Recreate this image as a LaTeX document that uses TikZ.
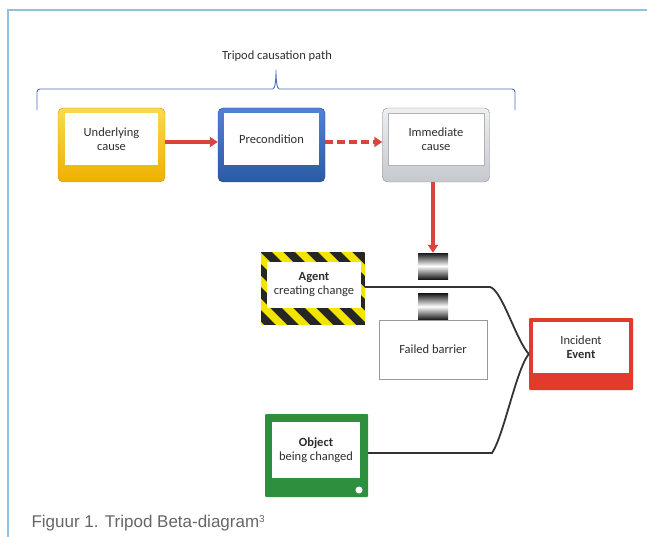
\documentclass[tikz,border=0pt]{standalone}
\usepackage{fontspec}
\setmainfont{Carlito}
\newfontfamily\capfont{Liberation Sans}
\usetikzlibrary{arrows.meta}
\definecolor{framecol}{HTML}{8CC4E0}
\definecolor{bracecol}{HTML}{4B6CC1}
\definecolor{arrowred}{HTML}{D9443F}
\definecolor{goldtop}{HTML}{FAD950}
\definecolor{goldbot}{HTML}{EFB000}
\definecolor{bluetop}{HTML}{4F83D2}
\definecolor{bluebot}{HTML}{2C5AA3}
\definecolor{graytop}{HTML}{EDEFF2}
\definecolor{graybot}{HTML}{C5C8CD}
\definecolor{eventred}{HTML}{E23B2E}
\definecolor{objgreen}{HTML}{2E8F3E}
\definecolor{stripey}{HTML}{F2E600}
\tikzset{
  lbl/.style = {font=\fontsize{12.5}{14}\selectfont, text=black!82, align=center},
  button/.style = {rounded corners=5pt, minimum width=107pt, minimum height=74pt, inner sep=0pt},
  panel/.style = {fill=white, inner sep=0pt, lbl},
  flag/.style = {minimum width=104pt, minimum height=73pt, inner sep=0pt},
  barrier/.style = {top color=black!90, bottom color=black!90, middle color=white,
    minimum width=30pt, minimum height=26pt, inner sep=0pt},
  redarrow/.style = {arrowred, line width=3.2pt, -{Triangle[length=8pt,width=10pt]}},
  wire/.style = {black!80, line width=1.8pt}
}
\begin{document}
\begin{tikzpicture}[x=1pt, y=-1pt]
  \useasboundingbox (0,0) rectangle (647,537);
  \draw[framecol, line width=1.5pt] (8,537) -- (8,10) -- (647,10);

  % causation path
  \node[lbl] (title) at (277,56) {Tripod causation path};
  \draw[bracecol, line width=.9pt, rounded corners=3pt]
    (37,110) -- (37,89) -- (270,89) .. controls (275,89) and (276,80) .. (276,68)
    .. controls (276,80) and (277,89) .. (282,89) -- (515,89) -- (515,110);

  \node[button, draw=goldbot!85!black, top color=goldtop, bottom color=goldbot] (under) at (111.5,145) {};
  \node[panel, minimum width=93pt, minimum height=52pt] (underIn) at (111.5,139) {Underlying\\cause};
  \node[button, draw=bluebot!80!black, top color=bluetop, bottom color=bluebot] (pre) at (271.5,145) {};
  \node[panel, minimum width=95pt, minimum height=52pt] (preIn) at (271.5,139) {Precondition};
  \node[button, draw=black!45, top color=graytop, bottom color=graybot] (imm) at (436,145) {};
  \node[panel, draw=black!30, minimum width=96pt, minimum height=52pt] (immIn) at (436,139) {Immediate\\cause};

  \draw[redarrow] ([yshift=3pt]under.east) -- ([yshift=3pt]pre.west);
  \draw[redarrow, dash pattern=on 8pt off 4pt] ([yshift=3pt]pre.east) -- ([yshift=3pt]imm.west);

  % barrier
  \node[barrier] (bar1) at (433,266) {};
  \node[barrier] (bar2) at (433,306.5) {};
  \draw[redarrow] (imm.south -| bar1.north) -- (bar1.north);
  \node[draw=black!40, fill=white, minimum width=108pt, minimum height=59pt, lbl] (failed) at (433,349.5) {Failed barrier};

  % agent
  \begin{scope}
    \clip (261,252) rectangle (365,325);
    \fill[black!85] (261,252) rectangle (365,325);
    \foreach \x in {180,203,...,370}
      \fill[stripey] (\x,252) -- ++(11,0) -- ++(73,73) -- ++(-11,0) -- cycle;
  \end{scope}
  \node[flag] (agent) at (313,288.5) {};
  \node[panel, minimum width=94pt, minimum height=46pt] (agentIn) at (314,285) {\textbf{Agent}\\creating change};

  % event
  \node[button, rounded corners=1pt, fill=eventred, minimum width=104pt, minimum height=72pt] (event) at (581,354) {};
  \node[panel, minimum width=96pt, minimum height=51pt] (eventIn) at (581,347.5) {Incident\\\textbf{Event}};

  % object
  \node[button, rounded corners=1pt, fill=objgreen, minimum width=103pt, minimum height=83pt] (obj) at (316.5,455.5) {};
  \node[panel, minimum width=88pt, minimum height=56pt] (objIn) at (316,450) {\textbf{Object}\\being changed};
  \fill[white] (359,490) circle (3.5pt);

  \draw[wire] (agent.east |- 0,287) -- (490,287) .. controls (502,290) and (516,340) .. (event.west);
  \draw[wire] (obj.east |- 0,453) -- (492,453) .. controls (504,435) and (516,370) .. (event.west);

  \node[anchor=base west, text=black!60, font=\capfont\fontsize{17}{20}\selectfont] (caption) at (28,527)
    {Figuur 1. Tripod Beta-diagram\raisebox{5pt}{\fontsize{10}{10}\selectfont 3}};
\end{tikzpicture}
\end{document}
